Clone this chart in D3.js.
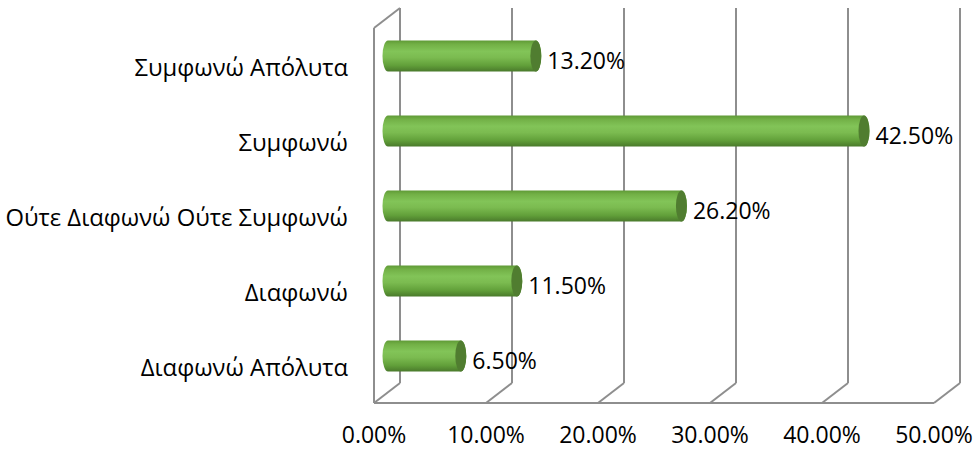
<!DOCTYPE html>
<html>
<head>
<meta charset="utf-8">
<script src="https://cdn.jsdelivr.net/npm/d3@7"></script>
<style>
  html, body { margin: 0; padding: 0; background: #fff; }
  svg { display: block; }
</style>
</head>
<body>
<svg id="chart" width="979" height="451"></svg>
<script>
// Responses, listed from top row to bottom row
const categories = ["Συμφωνώ Απόλυτα", "Συμφωνώ", "Ούτε Διαφωνώ Ούτε Συμφωνώ", "Διαφωνώ", "Διαφωνώ Απόλυτα"];
const values = [13.2, 42.5, 26.2, 11.5, 6.5];
const tickValues = [0, 10, 20, 30, 40, 50];
const tickLabels = ["0.00%", "10.00%", "20.00%", "30.00%", "40.00%", "50.00%"];

const svg = d3.select("#chart");
const FONT = "'Open Sans', 'Noto Sans', sans-serif";
const GRID = "#8e8e8e";

// Front edge of the floor and the depth offset to the back wall
const xFront = d3.scaleLinear().domain([0, 50]).range([374, 934]);
const depthX = 26, depthY = -20;
const floorY = 403, wallTop = 8;

// Row centres
const y = d3.scalePoint().domain(categories).range([56, 356]);

// ---- walls and grid ----
const grid = svg.append("g").attr("stroke", GRID).attr("stroke-width", 2).attr("fill", "none");
// back wall verticals
grid.selectAll("line.v").data(tickValues).join("line")
  .attr("x1", d => xFront(d) + depthX).attr("x2", d => xFront(d) + depthX)
  .attr("y1", wallTop).attr("y2", floorY + depthY);
// floor diagonals
grid.selectAll("line.d").data(tickValues).join("line")
  .attr("x1", d => xFront(d)).attr("y1", floorY)
  .attr("x2", d => xFront(d) + depthX).attr("y2", floorY + depthY);
// floor front edge
grid.append("line").attr("x1", xFront(0)).attr("x2", xFront(50)).attr("y1", floorY).attr("y2", floorY);
// side wall front edge and top
grid.append("line").attr("x1", xFront(0)).attr("x2", xFront(0)).attr("y1", wallTop - depthY).attr("y2", floorY);
grid.append("line").attr("x1", xFront(0)).attr("y1", wallTop - depthY)
  .attr("x2", xFront(0) + depthX).attr("y2", wallTop);

// ---- cylinder shading ----
const defs = svg.append("defs");
const grad = defs.append("linearGradient").attr("id", "cyl").attr("x1", 0).attr("y1", 0).attr("x2", 0).attr("y2", 1);
[[0, "#5f9a36"], [0.12, "#72b046"], [0.35, "#82c458"], [0.55, "#7bbb50"], [0.8, "#62a03a"], [1, "#4a7a2b"]]
  .forEach(([o, c]) => grad.append("stop").attr("offset", o).attr("stop-color", c));

const barH = 31, rx = 5.5;
const barX = v => xFront(v) + depthX / 2 + 1;   // bars sit midway through the depth

const bars = svg.append("g");
categories.forEach((cat, i) => {
  const v = values[i];
  const cy = y(cat), x0 = barX(0), x1 = barX(v);
  const top = cy - barH / 2, bot = cy + barH / 2, ry = barH / 2;
  const body = `M${x1},${top} L${x0},${top} A${rx},${ry} 0 0 0 ${x0},${bot} L${x1},${bot} A${rx},${ry} 0 0 0 ${x1},${top} Z`;
  bars.append("path").attr("d", body).attr("fill", "url(#cyl)");
  bars.append("ellipse").attr("cx", x1).attr("cy", cy).attr("rx", rx).attr("ry", ry)
    .attr("fill", "#507d30");
  // value label
  svg.append("text").attr("x", x1 + rx + 6).attr("y", cy + 13)
    .attr("font-family", FONT).attr("font-size", 23).attr("fill", "#000")
    .text(v.toFixed(2) + "%");
});

// ---- category labels ----
svg.append("g").selectAll("text").data(categories).join("text")
  .attr("x", 348).attr("y", d => y(d) + 20)
  .attr("text-anchor", "end")
  .attr("font-family", FONT).attr("font-size", 23.8).attr("fill", "#000")
  .text(d => d);

// ---- value axis labels ----
svg.append("g").selectAll("text").data(tickValues).join("text")
  .attr("x", d => xFront(d)).attr("y", 443)
  .attr("text-anchor", "middle")
  .attr("font-family", FONT).attr("font-size", 23).attr("fill", "#000")
  .text((d, i) => tickLabels[i]);
</script>
</body>
</html>
